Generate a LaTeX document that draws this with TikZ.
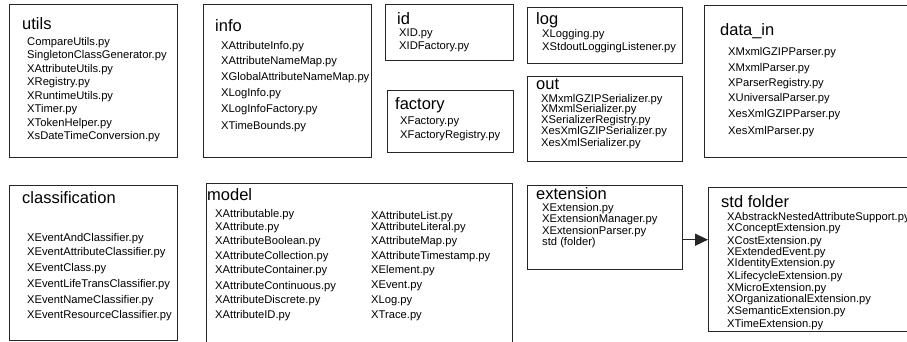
\documentclass[tikz,border=0pt]{standalone}
\usepackage{fontspec}
\setmainfont{Liberation Sans}
\usetikzlibrary{arrows.meta}
\begin{document}
\begin{tikzpicture}[x=1pt,y=-1pt,
  box/.style={draw=black!85, line width=1.4pt, rectangle, anchor=north west, inner sep=0pt},
  ttl/.style={anchor=west, inner sep=0pt, font=\fontsize{16.5}{19}\selectfont},
  itm/.style={anchor=west, inner sep=0pt, font=\fontsize{11.2}{13}\selectfont},
  conn/.style={line width=1.4pt, draw=black!85, -{Triangle[length=13pt,width=12pt]}}]
\useasboundingbox (0,0) rectangle (907,341);
\clip (0,0) rectangle (907,341);
\fill[white] (0,0) rectangle (907,341);
% boxes
\node[box, minimum width=168, minimum height=153] (utils) at (9,4) {};
\node[box, minimum width=168, minimum height=153] (info) at (203,4) {};
\node[box, minimum width=128, minimum height=56] (id) at (385,4) {};
\node[box, minimum width=126, minimum height=62] (factory) at (387,90) {};
\node[box, minimum width=155, minimum height=56] (log) at (527,7) {};
\node[box, minimum width=155, minimum height=85] (out) at (527,76) {};
\node[box, minimum width=210, minimum height=152] (datain) at (704,5) {};
\node[box, minimum width=168, minimum height=155] (classif) at (9,185) {};
\node[box, minimum width=306, minimum height=180] (model) at (206,183) {};
\node[box, minimum width=155, minimum height=84] (ext) at (527,185) {};
\node[box, minimum width=230, minimum height=144] (stdf) at (708,187) {};
% utils
\node[ttl] (t1) at (22,24) {utils};
\foreach \y/\t [count=\i] in {43/CompareUtils.py,56/SingletonClassGenerator.py,70/XAttributeUtils.py,83/XRegistry.py,97/XRuntimeUtils.py,110/XTimer.py,124/XTokenHelper.py,137/XsDateTimeConversion.py}
  \node[itm] (u\i) at (27,\y) {\t};
% info
\node[ttl] (t2) at (215,26) {info};
\foreach \y/\t [count=\i] in {47/XAttributeInfo.py,62/XAttributeNameMap.py,78/XGlobalAttributeNameMap.py,94/XLogInfo.py,110/XLogInfoFactory.py,127/XTimeBounds.py}
  \node[itm] (i\i) at (221,\y) {\t};
% id
\node[ttl] (t3) at (397,19) {id};
\foreach \y/\t [count=\i] in {34/XID.py,47/XIDFactory.py}
  \node[itm] (d\i) at (399,\y) {\t};
% log
\node[ttl] (t4) at (536,20) {log};
\foreach \y/\t [count=\i] in {35/XLogging.py,48/XStdoutLoggingListener.py}
  \node[itm] (l\i) at (542,\y) {\t};
% factory
\node[ttl] (t5) at (395,105) {factory};
\foreach \y/\t [count=\i] in {122/XFactory.py,136/XFactoryRegistry.py}
  \node[itm] (f\i) at (400,\y) {\t};
% out
\node[ttl] (t6) at (536,84) {out};
\foreach \y/\t [count=\i] in {100/XMxmlGZIPSerializer.py,110/XMxmlSerializer.py,121/XSerializerRegistry.py,132/XesXmlGZIPSerializer.py,144/XesXmlSerializer.py}
  \node[itm] (o\i) at (541,\y) {\t};
% data_in
\node[ttl] (t7) at (720,31) {data\_in};
\foreach \y/\t [count=\i] in {53/XMxmlGZIPParser.py,69/XMxmlParser.py,84/XParserRegistry.py,99/XUniversalParser.py,115/XesXmlGZIPParser.py,132/XesXmlParser.py}
  \node[itm] (p\i) at (728,\y) {\t};
% classification
\node[ttl] (t8) at (22,198) {classification};
\foreach \y/\t [count=\i] in {239/XEventAndClassifier.py,253/XEventAttributeClassifier.py,269/XEventClass.py,285/XEventLifeTransClassifier.py,301/XEventNameClassifier.py,316/XEventResourceClassifier.py}
  \node[itm] (c\i) at (27,\y) {\t};
% model
\node[ttl] (t9) at (207,195) {model};
\foreach \y/\t [count=\i] in {215/XAttributable.py,228/XAttribute.py,242/XAttributeBoolean.py,257/XAttributeCollection.py,271/XAttributeContainer.py,287/XAttributeContinuous.py,301/XAttributeDiscrete.py,316/XAttributeID.py}
  \node[itm] (ma\i) at (215,\y) {\t};
\foreach \y/\t [count=\i] in {217/XAttributeList.py,228/XAttributeLiteral.py,242/XAttributeMap.py,257/XAttributeTimestamp.py,271/XElement.py,286/XEvent.py,301/XLog.py,316/XTrace.py}
  \node[itm] (mb\i) at (371,\y) {\t};
% extension
\node[ttl] (t10) at (536,194) {extension};
\foreach \y/\t [count=\i] in {209/XExtension.py,220/XExtensionManager.py,232/XExtensionParser.py,243/std (folder)}
  \node[itm] (e\i) at (542,\y) {\t};
% std folder
\node[ttl] (t11) at (721,202) {std folder};
\foreach \y/\t [count=\i] in {218/XAbstrackNestedAttributeSupport.py,229/XConceptExtension.py,242/XCostExtension.py,253/XExtendedEvent.py,264/XIdentityExtension.py,277/XLifecycleExtension.py,289/XMicroExtension.py,300/XOrganizationalExtension.py,312/XSemanticExtension.py,325/XTimeExtension.py}
  \node[itm] (s\i) at (727,\y) {\t};
% connector
\coordinate (a1) at ([yshift=-12pt]ext.east);
\draw[conn] (a1) -- (a1 -| stdf.west);
\end{tikzpicture}
\end{document}
